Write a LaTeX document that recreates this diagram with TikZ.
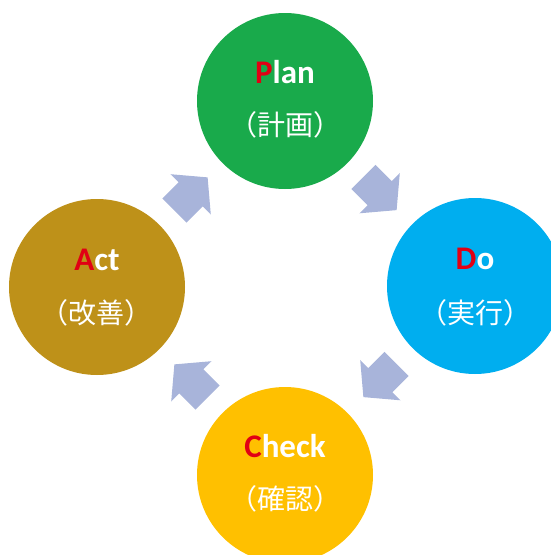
\documentclass[tikz,border=0pt]{standalone}
\usepackage{fontspec}
\setmainfont{Carlito}
\newfontfamily\jpfont{Noto Sans CJK JP}
\usetikzlibrary{positioning,calc}

\definecolor{planfill}{RGB}{25,170,75}
\definecolor{dofill}{RGB}{0,174,239}
\definecolor{checkfill}{RGB}{255,192,0}
\definecolor{actfill}{RGB}{190,145,25}
\definecolor{arrowfill}{RGB}{168,180,218}
\definecolor{initial}{RGB}{225,0,20}

\newcommand{\initial}[1]{\textcolor{initial}{#1}}

\begin{document}
\begin{tikzpicture}[x=1pt,y=1pt,
    phase/.style={circle,fill=#1,minimum size=176pt,inner sep=0pt},
    title/.style={font=\fontsize{33}{33}\selectfont\bfseries,text=white,inner sep=0pt},
    note/.style={font=\fontsize{28}{28}\selectfont\jpfont,text=white,inner sep=0pt},
    flow/.pic={\fill[arrowfill] (-23.5,-17) -- (-0.5,-17) -- (-0.5,-28.5) -- (23.5,0)
        -- (-0.5,28.5) -- (-0.5,17) -- (-23.5,17) -- cycle;}]
    \useasboundingbox (0,0) rectangle (551,-555);
    \clip (0,0) rectangle (551,-555);

    % the four phases
    \node[phase=planfill] (plan) at (285,-101) {};
    \node[phase=dofill] (do) at (475,-286) {};
    \node[phase=checkfill] (check) at (285,-475) {};
    \node[phase=actfill] (act) at (97,-287) {};

    \node[title] (plan-en) at ([yshift=29pt]plan.center) {\initial{P}lan};
    \node[note] (plan-jp) at ([yshift=-24pt]plan.center) {（計画）};
    \node[title] (do-en) at ([yshift=27pt]do.center) {\initial{D}o};
    \node[note] (do-jp) at ([yshift=-27pt]do.center) {（実行）};
    \node[title] (check-en) at ([yshift=29pt]check.center) {\initial{C}heck};
    \node[note] (check-jp) at ([yshift=-24pt]check.center) {（確認）};
    \node[title] (act-en) at ([yshift=27pt]act.center) {\initial{A}ct};
    \node[note] (act-jp) at ([yshift=-26pt]act.center) {（改善）};

    % block arrows halfway between the circles
    \pic[rotate=45] at ($(act)!0.5!(plan)$) {flow};
    \pic[rotate=-45] at ($(plan)!0.5!(do)$) {flow};
    \pic[rotate=-135] at ($(do)!0.5!(check)$) {flow};
    \pic[rotate=135] at ($(check)!0.5!(act)$) {flow};
\end{tikzpicture}
\end{document}
